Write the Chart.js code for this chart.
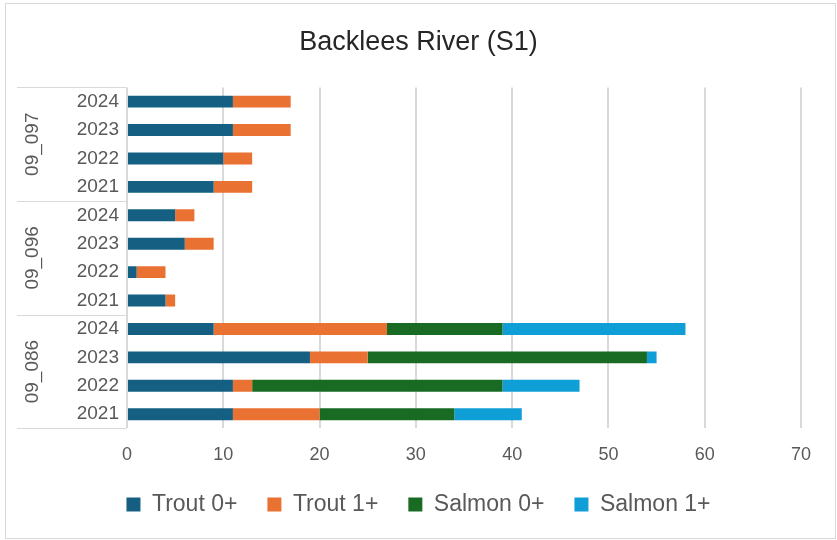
<!DOCTYPE html>
<html>
<head>
<meta charset="utf-8">
<title>Backlees River (S1)</title>
<script src="https://cdn.jsdelivr.net/npm/chart.js@4/dist/chart.umd.min.js"></script>
<style>
    html, body { margin: 0; padding: 0; background: #fff; }
    #wrap { width: 837px; height: 540px; }
</style>
</head>
<body>
<div id="wrap"><canvas id="chart" width="837" height="540"></canvas></div>
<script>
// Sites (outer category level), top to bottom
const sites = ['09_097', '09_096', '09_086'];
// Years (inner category level), top to bottom within each site
const years = ['2024', '2023', '2022', '2021'];

// Series values, one per row, top to bottom
const trout0 = [11, 11, 10, 9, 5, 6, 1, 4, 9, 19, 11, 11];
const trout1 = [6, 6, 3, 4, 2, 3, 3, 1, 18, 6, 2, 9];
const salmon0 = [0, 0, 0, 0, 0, 0, 0, 0, 12, 29, 26, 14];
const salmon1 = [0, 0, 0, 0, 0, 0, 0, 0, 19, 1, 8, 7];

const xTicks = [0, 10, 20, 30, 40, 50, 60, 70];

const FONT = '"Liberation Sans", Arial, sans-serif';
const TEXT = '#595959';
const LINE = '#d9d9d9';

const rowLabels = sites.flatMap(() => years);

/**
 * Draws the outer frame, the rotated site labels and the group separators
 * of the two-level category axis.
 */
const groupAxis = {
    id: 'groupAxis',
    beforeDraw(chart) {
        const { ctx } = chart;
        ctx.save();
        ctx.fillStyle = '#fff';
        ctx.fillRect(0, 0, chart.width, chart.height);
        ctx.strokeStyle = LINE;
        ctx.lineWidth = 1;
        ctx.strokeRect(5.5, 3.5, chart.width - 7, chart.height - 5);
        ctx.restore();
    },
    afterDraw(chart) {
        const { ctx } = chart;
        const y = chart.scales.y;
        const band = (y.bottom - y.top) / rowLabels.length;
        const right = y.right - 1;

        ctx.save();
        ctx.strokeStyle = LINE;
        ctx.lineWidth = 1;
        for (let g = 0; g <= sites.length; g++) {
            const py = Math.round(y.top + band * years.length * g) + 0.5;
            ctx.beginPath();
            ctx.moveTo(17, py);
            ctx.lineTo(right, py);
            ctx.stroke();
        }
        ctx.beginPath();
        ctx.moveTo(right + 0.5, y.top);
        ctx.lineTo(right + 0.5, y.bottom);
        ctx.stroke();

        ctx.fillStyle = TEXT;
        ctx.font = '19px ' + FONT;
        ctx.textAlign = 'center';
        ctx.textBaseline = 'middle';
        sites.forEach((site, g) => {
            const first = y.getPixelForValue(g * years.length);
            const last = y.getPixelForValue(g * years.length + years.length - 1);
            ctx.save();
            ctx.translate(33, (first + last) / 2);
            ctx.rotate(-Math.PI / 2);
            ctx.fillText(site, 0, 0);
            ctx.restore();
        });
        ctx.restore();
    }
};

const dataset = (label, data, color) => ({
    label,
    data,
    backgroundColor: color,
    borderWidth: 0,
    categoryPercentage: 0.42,
    barPercentage: 1
});

new Chart(document.getElementById('chart'), {
    type: 'bar',
    data: {
        labels: rowLabels,
        datasets: [
            dataset('Trout 0+', trout0, '#156082'),
            dataset('Trout 1+', trout1, '#e97132'),
            dataset('Salmon 0+', salmon0, '#196b24'),
            dataset('Salmon 1+', salmon1, '#0f9ed5')
        ]
    },
    options: {
        indexAxis: 'y',
        responsive: false,
        animation: false,
        layout: {
            padding: { left: 0, right: 0, top: 0, bottom: 14 }
        },
        scales: {
            x: {
                stacked: true,
                min: xTicks[0],
                max: xTicks[xTicks.length - 1],
                afterBuildTicks: scale => {
                    scale.ticks = xTicks.map(value => ({ value }));
                },
                afterFit: scale => { scale.height -= 19; },
                grid: { color: LINE, lineWidth: 2, drawTicks: false },
                border: { display: false },
                ticks: { color: TEXT, padding: 16, font: { family: FONT, size: 18 } }
            },
            y: {
                stacked: true,
                afterFit: scale => { scale.width = 127; },
                grid: { display: false, drawTicks: false },
                border: { display: false },
                ticks: { color: TEXT, padding: 8, font: { family: FONT, size: 19 } }
            },
            // empty right-hand gutter so the plot ends at 70 while title and legend stay centred
            gutter: {
                type: 'category',
                labels: rowLabels,
                position: 'right',
                afterFit: scale => { scale.width = 36; },
                grid: { display: false, drawTicks: false },
                border: { display: false },
                ticks: { display: false }
            }
        },
        plugins: {
            title: {
                display: true,
                text: 'Backlees River (S1)',
                color: '#262626',
                font: { family: FONT, size: 27, weight: 'normal' },
                padding: { top: 26, bottom: 29 }
            },
            legend: {
                position: 'bottom',
                labels: {
                    color: TEXT,
                    boxWidth: 14,
                    boxHeight: 14,
                    padding: 30,
                    font: { family: FONT, size: 23 }
                }
            },
            tooltip: { enabled: false }
        }
    },
    plugins: [groupAxis]
});
</script>
</body>
</html>
